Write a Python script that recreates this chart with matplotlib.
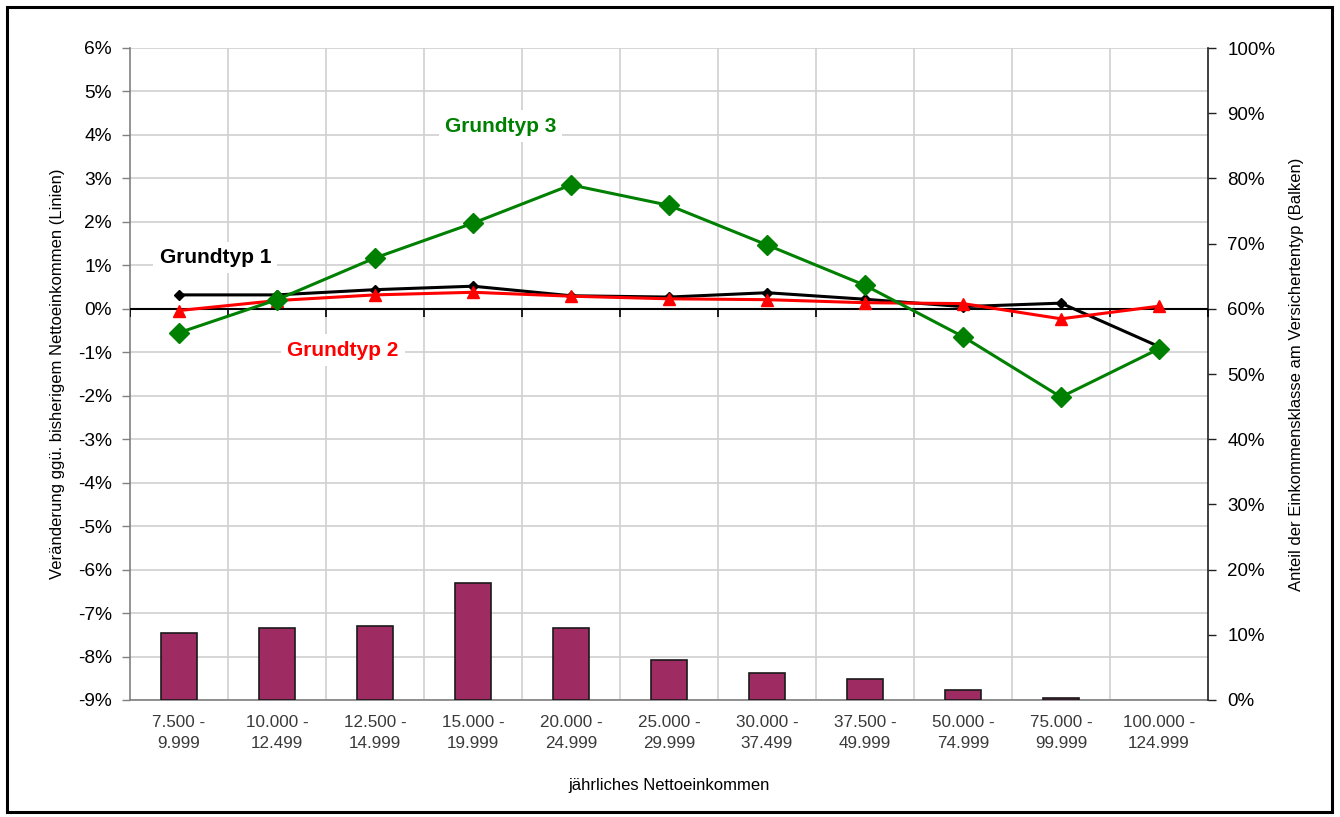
import matplotlib
matplotlib.use("Agg")
import matplotlib.pyplot as plt
from matplotlib.patches import Rectangle
from matplotlib.ticker import FuncFormatter, MultipleLocator, FixedLocator
from matplotlib.markers import TICKDOWN

plt.rcParams['font.family'] = ['Liberation Sans', 'DejaVu Sans']

categories = ["7.500 -\n9.999", "10.000 -\n12.499", "12.500 -\n14.999",
              "15.000 -\n19.999", "20.000 -\n24.999", "25.000 -\n29.999",
              "30.000 -\n37.499", "37.500 -\n49.999", "50.000 -\n74.999",
              "75.000 -\n99.999", "100.000 -\n124.999"]

# Veränderung in Prozent (linke Achse)
grundtyp1 = [0.32, 0.32, 0.44, 0.52, 0.30, 0.27, 0.37, 0.22, 0.05, 0.13, -0.87]
grundtyp2 = [-0.04, 0.19, 0.32, 0.38, 0.29, 0.23, 0.21, 0.14, 0.12, -0.23, 0.06]
grundtyp3 = [-0.55, 0.21, 1.17, 1.97, 2.85, 2.38, 1.47, 0.54, -0.64, -2.03, -0.92]

# Anteil der Einkommensklasse in Prozent (rechte Achse)
anteil = [10.3, 11.1, 11.4, 17.9, 11.1, 6.1, 4.1, 3.2, 1.5, 0.35, 0.0]

x = list(range(len(categories)))

fig = plt.figure(figsize=(13.4, 8.17), dpi=100)
pos = [130 / 1340, 1 - 700 / 817, (1208 - 130) / 1340, (700 - 48) / 817]

# Hintergrund-Achse: Gitter und linke Skala
ax = fig.add_axes(pos, zorder=0)
ax.set_xlim(-0.5, len(x) - 0.5)
ax.set_ylim(-9, 6)
ax.yaxis.set_major_locator(MultipleLocator(1))
ax.yaxis.set_major_formatter(FuncFormatter(lambda v, p: f"{v:.0f}%"))
ax.set_xticks(x)
ax.set_xticklabels(categories, fontsize=12.3, color="#3a3a3a", linespacing=1.5)
ax.xaxis.set_minor_locator(FixedLocator([i + 0.5 for i in x[:-1]]))
ax.tick_params(axis='x', which='both', length=0, pad=11)
ax.tick_params(axis='y', length=6, width=1, color="#808080", labelsize=13.8,
               labelcolor="black", pad=7)
ax.grid(True, axis='y', which='major', color="#d0d0d0", lw=1.2)
ax.grid(True, axis='x', which='minor', color="#d0d0d0", lw=1.2)
for s in ['top', 'right']:
    ax.spines[s].set_visible(False)
ax.spines['left'].set_color("#808080")
ax.spines['left'].set_linewidth(1.2)
ax.spines['bottom'].set_color("#808080")
ax.spines['bottom'].set_linewidth(1.2)
ax.set_axisbelow(True)
ax.set_xlabel("jährliches Nettoeinkommen", fontsize=12, labelpad=19)
ax.set_ylabel("Veränderung ggü. bisherigem Nettoeinkommen (Linien)", fontsize=12,
              labelpad=9)

# Balken auf der rechten Skala
axb = ax.twinx()
axb.set_zorder(1)
axb.patch.set_visible(False)
axb.set_ylim(0, 100)
axb.yaxis.set_major_locator(MultipleLocator(10))
axb.yaxis.set_major_formatter(FuncFormatter(lambda v, p: f"{v:.0f}%"))
edge_colors = ["#1a1a1a" if v > 0 else "none" for v in anteil]
axb.bar(x, anteil, width=0.37, color="#9e2b62", edgecolor=edge_colors, linewidth=1.2)
axb.tick_params(axis='y', length=6, width=1, color="#202020", labelsize=13.5, pad=8)
for s in ['top', 'left', 'bottom']:
    axb.spines[s].set_visible(False)
axb.spines['right'].set_color("#202020")
axb.spines['right'].set_linewidth(1.2)
axb.set_ylabel("Anteil der Einkommensklasse am Versichertentyp (Balken)",
               fontsize=12, labelpad=10)

# Linien auf der linken Skala
axl = fig.add_axes(pos, zorder=2, sharex=ax, sharey=ax)
axl.patch.set_visible(False)
axl.axis('off')
axl.axhline(0, color="black", lw=1.5, zorder=2)
axl.plot([i - 0.5 for i in range(len(x) + 1)], [0] * (len(x) + 1),
         linestyle='none', marker=TICKDOWN, markersize=6, mew=1.2, color="black")
axl.plot(x, grundtyp1, color="black", lw=2.2, marker="D", markersize=5, zorder=3)
axl.plot(x, grundtyp2, color="#ff0000", lw=2.2, marker="^", markersize=8, zorder=4)
axl.plot(x, grundtyp3, color="#008000", lw=2.2, marker="D", markersize=10, zorder=5)

bbox = dict(boxstyle="square,pad=0.3", facecolor="white", edgecolor="none")
axl.text(3.28, 4.2, "Grundtyp 3", color="#008000", fontsize=15, fontweight="bold",
         ha="center", va="center", bbox=bbox)
axl.text(0.37, 1.18, "Grundtyp 1", color="black", fontsize=15, fontweight="bold",
         ha="center", va="center", bbox=bbox)
axl.text(1.67, -0.95, "Grundtyp 2", color="#ff0000", fontsize=15, fontweight="bold",
         ha="center", va="center", bbox=bbox)

# Rahmen um die gesamte Grafik
fig.patches.append(Rectangle((7 / 1340, 5 / 817), 1325 / 1340, 805 / 817,
                             transform=fig.transFigure, fill=False,
                             edgecolor="black", lw=2.2))

fig.savefig("out.png", dpi=100)
